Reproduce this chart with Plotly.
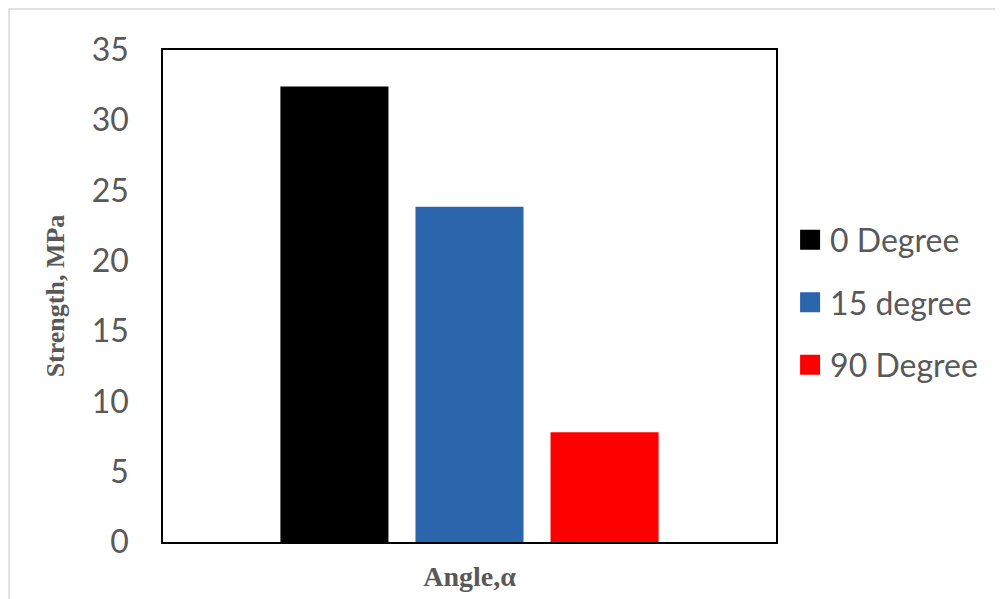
import plotly.graph_objects as go

category = ["Angle"]
series_names = ["0 Degree", "15 degree", "90 Degree"]
series_values = [32.4, 23.85, 7.8]
series_colors = ["#000000", "#2B65AC", "#FF0000"]
y_ticks = [0, 5, 10, 15, 20, 25, 30, 35]

fig = go.Figure()
for name, val, col in zip(series_names, series_values, series_colors):
    fig.add_trace(go.Bar(
        x=category, y=[val], name=name,
        marker=dict(color=col, line=dict(width=0)),
        showlegend=False,
    ))
    fig.add_trace(go.Scatter(
        x=[None], y=[None], mode="markers", name=name,
        marker=dict(symbol="square", size=22, color=col, line=dict(width=4, color=col)),
        legendgroup=name,
    ))

fig.update_layout(
    width=1003, height=599,
    margin=dict(l=155, r=235, t=42, b=65),
    paper_bgcolor="white", plot_bgcolor="white",
    barmode="group", bargap=0.339, bargroupgap=0.2,
    font=dict(family="Lato, Open Sans, sans-serif", color="#595959"),
    xaxis=dict(
        showticklabels=False, showgrid=False, zeroline=False,
        showline=True, linecolor="black", linewidth=1.5, mirror=True,
        range=[-0.5, 0.5],
        title=dict(text="<b>Angle,α</b>", font=dict(family="Liberation Serif", size=28, color="#595959"), standoff=24),
    ),
    yaxis=dict(
        range=[0, 35], tickvals=y_ticks, showgrid=False, zeroline=False,
        showline=True, linecolor="black", linewidth=1.5, mirror=True,
        ticks="", tickfont=dict(size=32, color="#595959"), ticklabelstandoff=26,
        title=dict(text="<b>Strength, MPa</b>", font=dict(family="Liberation Serif", size=26, color="#595959"), standoff=20),
    ),
    legend=dict(
        x=1.023, y=0.67, xanchor="left", yanchor="top",
        font=dict(size=32, color="#595959"),
        traceorder="grouped", tracegroupgap=18,
        itemsizing="trace",
        bgcolor="rgba(0,0,0,0)",
    ),
    shapes=[dict(type="rect", xref="paper", yref="paper",
                 x0=-0.2512, x1=1.60, y0=-0.30, y1=1.0833,
                 line=dict(color="#D9D9D9", width=1.5), layer="below")],
)

fig.write_html("out.html")
